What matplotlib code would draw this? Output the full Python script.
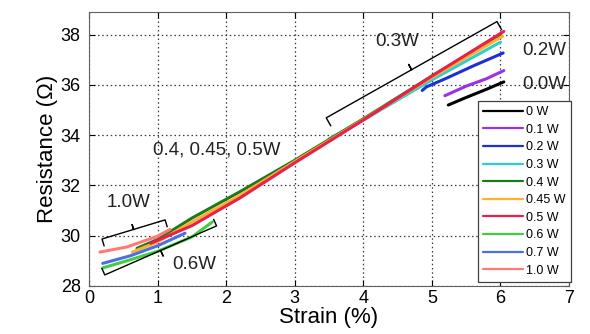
import numpy as np
import matplotlib
matplotlib.use("Agg")
import matplotlib.pyplot as plt

plt.rcParams['font.family'] = ['Liberation Sans', 'DejaVu Sans']

# power levels and colours
labels = ['0 W', '0.1 W', '0.2 W', '0.3 W', '0.4 W', '0.45 W', '0.5 W', '0.6 W', '0.7 W', '1.0 W']
colors = ['#000000', '#9b30e8', '#1f2fd0', '#2ad0d0', '#1c7a1c', '#ffb030',
          '#e8204a', '#3fcf3f', '#4a6fe0', '#ff7a70']

# strain (%) / resistance (ohm)
x_0w = [5.24, 5.5, 5.8, 6.05]
y_0w = [35.2, 35.5, 35.83, 36.12]
x_01w = [5.19, 5.5, 5.8, 6.05]
y_01w = [35.57, 35.95, 36.25, 36.57]
x_02w = [4.86, 4.92, 5.2, 5.6, 6.04]
y_02w = [35.78, 35.92, 36.25, 36.75, 37.27]
x_03w = [3.5, 4.0, 5.0, 5.5, 5.9, 6.0]
y_03w = [33.85, 34.6, 36.2, 36.95, 37.55, 37.7]
x_04w = [0.7, 1.0, 1.5, 2.2, 3.0, 4.0, 5.0, 6.0]
y_04w = [29.5, 29.85, 30.7, 31.75, 33.0, 34.65, 36.35, 38.0]
x_045w = [0.63, 1.0, 1.5, 2.2, 3.0, 4.0, 5.0, 6.03]
y_045w = [29.35, 29.75, 30.55, 31.6, 32.95, 34.62, 36.3, 37.93]
x_05w = [0.9, 1.5, 2.2, 3.0, 4.0, 5.0, 6.05]
y_05w = [29.7, 30.4, 31.5, 32.9, 34.6, 36.35, 38.13]
x_06w = [0.2, 0.55, 1.0, 1.5, 1.8]
y_06w = [28.72, 29.0, 29.38, 29.95, 30.55]
x_07w = [0.2, 0.6, 1.0, 1.4]
y_07w = [28.9, 29.2, 29.6, 30.1]
x_10w = [0.16, 0.55, 1.0, 1.18]
y_10w = [29.35, 29.55, 29.98, 30.25]

xs = [x_0w, x_01w, x_02w, x_03w, x_04w, x_045w, x_05w, x_06w, x_07w, x_10w]
ys = [y_0w, y_01w, y_02w, y_03w, y_04w, y_045w, y_05w, y_06w, y_07w, y_10w]

fig = plt.figure(figsize=(5.9, 3.34), dpi=100)
ax = fig.add_axes([89 / 590, 48 / 334, 480 / 590, 274 / 334])
ax.set_xlim(0, 7)
ax.set_ylim(28, 38.9)

for x, y, c, lab in zip(xs, ys, colors, labels):
    ax.plot(x, y, color=c, lw=2.2, label=lab, solid_capstyle='round')

ax.set_xticks(range(0, 8))
ax.set_yticks(range(28, 39, 2))
ax.tick_params(direction='in', length=4, top=True, right=True, labelsize=13)
ax.tick_params(axis='x', pad=3)
ax.tick_params(axis='y', pad=6)
ax.grid(True, linestyle=(0, (1.2, 2.2)), color='#3a3a3a', lw=0.9)
ax.set_axisbelow(True)
for s in ax.spines.values():
    s.set_color('#606060')
ax.set_xlabel('Strain (%)', fontsize=16, labelpad=0)
ax.set_ylabel('Resistance (Ω)', fontsize=16, labelpad=2)


def brace(p0, p1, side, hook=7, notch=6):
    # bracket drawn in pixel space so the hooks stay perpendicular
    tr = ax.transData
    a = tr.transform(p0)
    b = tr.transform(p1)
    d = (b - a) / np.hypot(*(b - a))
    n = np.array([-d[1], d[0]]) * side
    m = (a + b) / 2
    pts = np.array([a + n * hook, a, m, m - n * notch, m, b, b + n * hook])
    pts = tr.inverted().transform(pts)
    ax.plot(pts[:, 0], pts[:, 1], color='black', lw=1.0)


brace((3.46, 34.69), (5.95, 38.52), -1, hook=9, notch=6)
brace((0.19, 29.87), (1.11, 30.63), -1, hook=7, notch=5)
brace((0.23, 28.44), (1.86, 30.39), 1, hook=7, notch=6)

txt = dict(fontsize=13.5, color='#222222', ha='center', va='center')
ax.text(4.50, 37.72, '0.3W', **txt)
ax.text(6.64, 37.36, '0.2W', **txt)
ax.text(6.64, 36.0, '0.0W', **txt)
ax.text(1.86, 33.42, '0.4, 0.45, 0.5W', **txt)
ax.text(0.57, 31.31, '1.0W', **txt)
ax.text(1.54, 28.84, '0.6W', **txt)

leg = ax.legend(loc='upper right', bbox_to_anchor=(1.004, 0.675), borderaxespad=0,
                fontsize=9, frameon=True, fancybox=False, framealpha=1,
                edgecolor='#404040', handlelength=3.2, handletextpad=0.3,
                labelspacing=0.45, borderpad=0.4)
leg.get_frame().set_linewidth(0.9)
for h in leg.get_lines():
    h.set_linewidth(1.6)

fig.savefig('out.png', dpi=100)
